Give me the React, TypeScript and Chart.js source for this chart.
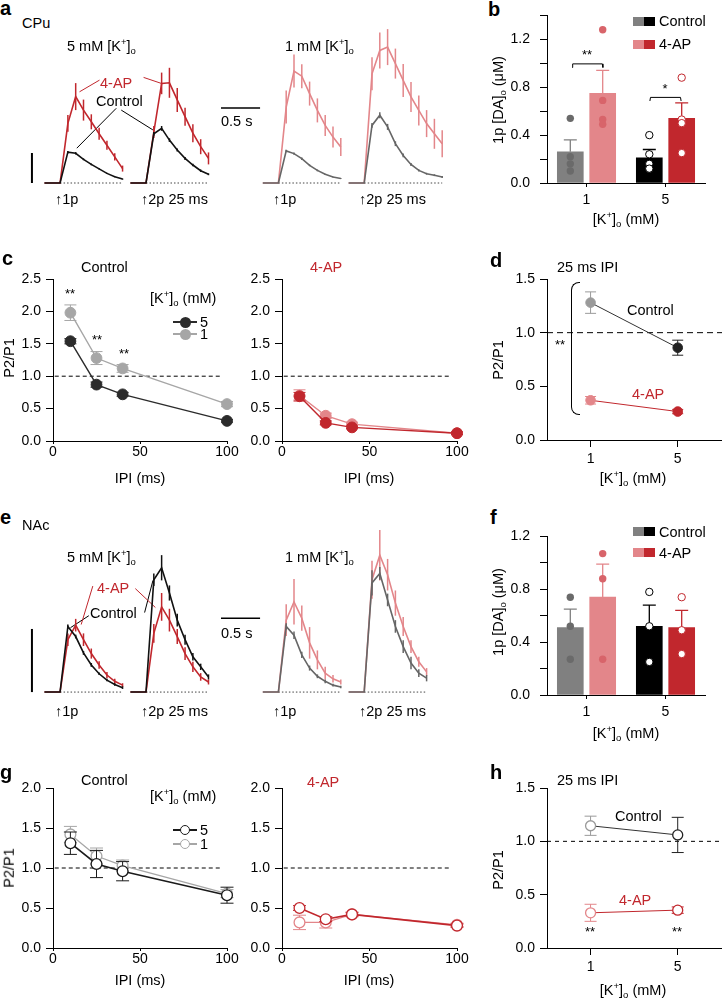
import React, { useEffect, useRef } from 'react';
import { Chart, registerables } from 'chart.js';
Chart.register(...registerables);

const FONT = "'Liberation Sans', Arial, Helvetica, sans-serif";
const RED = '#c1272d';
const PINK = '#e3868a';
const PINKDOT = '#d8646a';
const DARK = '#2b2b2b';
const LGRAY = '#a6a6a6';
const BARGRAY = '#808080';
const TRGRAY = '#666666';

// ---------- time bases of the FSCV traces (s) ----------
const tP1 = [0, 0.1, 0.2, 0.3, 0.4, 0.5, 0.6, 0.7, 0.8, 0.9, 1.0];
const tP2 = [1.1, 1.2, 1.3, 1.4, 1.5, 1.6, 1.7, 1.8, 1.9, 2.0, 2.1];
const tP2long = [1.1, 1.2, 1.3, 1.4, 1.5, 1.6, 1.7, 1.8, 1.9, 2.0, 2.1, 2.2, 2.3];

// ---------- panel a: CPu traces (scale-bar units) ----------
const aCtl5p1 = [0, 0, 0, 1.03, 0.99, 0.79, 0.62, 0.47, 0.32, 0.21, 0.13];
const aCtl5p1Sem = [0, 0, 0, 0.04, 0.04, 0.03, 0.03, 0.02, 0.02, 0.02, 0.02];
const aAp5p1 = [0, 0, 0, 1.99, 2.88, 2.43, 2.04, 1.64, 1.26, 0.87, 0.48];
const aAp5p1Sem = [0, 0, 0, 0.28, 0.45, 0.35, 0.25, 0.2, 0.15, 0.12, 0.1];
const aCtl5p2 = [0, 0, 0, 1.64, 1.82, 1.43, 1.1, 0.82, 0.6, 0.41, 0.29];
const aCtl5p2Sem = [0, 0, 0, 0.06, 0.08, 0.06, 0.05, 0.05, 0.04, 0.04, 0.03];
const aAp5p2 = [0, 0, 0, 1.7, 3.32, 3.34, 2.77, 2.21, 1.66, 1.21, 0.82];
const aAp5p2Sem = [0, 0, 0, 0.2, 0.36, 0.5, 0.4, 0.3, 0.3, 0.25, 0.2];

const aCtl1p1 = [0, 0, 0, 1.07, 0.98, 0.81, 0.59, 0.42, 0.29, 0.2, 0.15];
const aCtl1p1Sem = [0, 0, 0, 0.04, 0.04, 0.04, 0.03, 0.03, 0.02, 0.02, 0.02];
const aAp1p1 = [0, 0, 0, 2.53, 3.73, 3.56, 2.98, 2.42, 1.92, 1.53, 1.2];
const aAp1p1Sem = [0, 0, 0, 0.55, 0.55, 0.4, 0.4, 0.4, 0.35, 0.35, 0.3];
const aCtl1p2 = [0, 0, 0, 1.92, 2.26, 1.87, 1.31, 0.92, 0.62, 0.42, 0.31, 0.26, 0.2];
const aCtl1p2Sem = [0, 0, 0, 0.08, 0.1, 0.1, 0.08, 0.06, 0.05, 0.04, 0.03, 0.03, 0.03];
const aAp1p2 = [0, 0, 0, 3.64, 4.42, 4.53, 3.98, 3.42, 2.87, 2.42, 1.98, 1.64, 1.31];
const aAp1p2Sem = [0, 0, 0, 0.55, 0.6, 0.6, 0.5, 0.55, 0.5, 0.5, 0.45, 0.5, 0.45];

// ---------- panel e: NAc traces (scale-bar units) ----------
const eCtl5p1 = [0, 0, 0, 1.04, 0.88, 0.62, 0.43, 0.29, 0.19, 0.12, 0.07];
const eCtl5p1Sem = [0, 0, 0, 0.03, 0.03, 0.03, 0.03, 0.02, 0.02, 0.02, 0.02];
const eAp5p1 = [0, 0, 0, 0.83, 1.06, 0.83, 0.61, 0.43, 0.27, 0.17, 0.11];
const eAp5p1Sem = [0, 0, 0, 0.1, 0.1, 0.1, 0.08, 0.06, 0.05, 0.04, 0.03];
const eCtl5p2 = [0, 0, 0, 1.78, 1.97, 1.57, 1.14, 0.83, 0.56, 0.4, 0.24];
const eCtl5p2Sem = [0, 0, 0, 0.1, 0.2, 0.12, 0.1, 0.08, 0.06, 0.05, 0.04];
const eAp5p2 = [0, 0, 0, 0.93, 1.35, 1.14, 0.88, 0.61, 0.4, 0.24, 0.16];
const eAp5p2Sem = [0, 0, 0, 0.15, 0.22, 0.18, 0.12, 0.1, 0.08, 0.06, 0.04];

const eCtl1p1 = [0, 0, 0, 1.04, 0.9, 0.59, 0.38, 0.25, 0.17, 0.11, 0.08];
const eCtl1p1Sem = [0, 0, 0, 0.05, 0.06, 0.05, 0.04, 0.03, 0.03, 0.02, 0.02];
const eAp1p1 = [0, 0, 0, 1.14, 1.43, 1.17, 0.78, 0.51, 0.3, 0.21, 0.16];
const eAp1p1Sem = [0, 0, 0, 0.25, 0.36, 0.2, 0.25, 0.15, 0.1, 0.06, 0.04];
const eCtl1p2 = [0, 0, 0, 1.73, 1.88, 1.46, 1.04, 0.72, 0.46, 0.3, 0.22];
const eCtl1p2Sem = [0, 0, 0, 0.2, 0.1, 0.1, 0.1, 0.1, 0.1, 0.06, 0.05];
const eAp1p2 = [0, 0, 0, 1.78, 2.17, 1.86, 1.41, 1.04, 0.72, 0.48, 0.32];
const eAp1p2Sem = [0, 0, 0, 0.3, 0.4, 0.25, 0.2, 0.15, 0.1, 0.08, 0.06];

// ---------- panels b / f: 1p [DA]o (uM) ----------
const kLevels = [1, 5];
const cpuCtlMean = [0.26, 0.21];
const cpuCtlSem = [0.1, 0.07];
const cpuApMean = [0.75, 0.54];
const cpuApSem = [0.19, 0.13];
const cpuCtlPts1 = [0.54, 0.22, 0.16, 0.1];
const cpuCtlPts5 = [0.4, 0.24, 0.16, 0.12];
const cpuApPts1 = [1.28, 0.69, 0.53, 0.49];
const cpuApPts5 = [0.88, 0.53, 0.5, 0.25];

const nacCtlMean = [0.51, 0.52];
const nacCtlSem = [0.14, 0.16];
const nacApMean = [0.74, 0.51];
const nacApSem = [0.25, 0.13];
const nacCtlPts1 = [0.74, 0.52, 0.27];
const nacCtlPts5 = [0.78, 0.52, 0.25];
const nacApPts1 = [1.07, 0.88, 0.27];
const nacApPts5 = [0.74, 0.49, 0.31];

// ---------- panels c / g: P2/P1 vs IPI ----------
const ipi = [10, 25, 40, 100];
const cpuCtl5 = [1.54, 0.87, 0.72, 0.31];
const cpuCtl5Sem = [0.04, 0.04, 0.03, 0.02];
const cpuCtl1 = [1.98, 1.28, 1.12, 0.57];
const cpuCtl1Sem = [0.12, 0.1, 0.06, 0.04];
const cpuAp5 = [0.69, 0.28, 0.21, 0.12];
const cpuAp5Sem = [0.06, 0.03, 0.02, 0.02];
const cpuAp1 = [0.7, 0.39, 0.26, 0.12];
const cpuAp1Sem = [0.09, 0.04, 0.03, 0.02];

const nacCtl5 = [1.31, 1.05, 0.96, 0.66];
const nacCtl5Sem = [0.14, 0.17, 0.12, 0.1];
const nacCtl1 = [1.42, 1.15, 1.03, 0.68];
const nacCtl1Sem = [0.1, 0.1, 0.07, 0.05];
const nacAp5 = [0.5, 0.36, 0.42, 0.28];
const nacAp5Sem = [0.03, 0.03, 0.02, 0.02];
const nacAp1 = [0.32, 0.32, 0.42, 0.29];
const nacAp1Sem = [0.09, 0.07, 0.03, 0.02];

// ---------- panels d / h: 25 ms IPI ----------
const cpuCtl25 = [1.28, 0.86];
const cpuCtl25Sem = [0.1, 0.07];
const cpuAp25 = [0.37, 0.265];
const cpuAp25Sem = [0.035, 0.02];
const nacCtl25 = [1.146, 1.06];
const nacCtl25Sem = [0.09, 0.165];
const nacAp25 = [0.33, 0.355];
const nacAp25Sem = [0.08, 0.03];

// ---------- annotation geometry (data coords) ----------
const aLinks = {
  ap: [[[0.705, 3.43], [0.449, 3.04]], [[1.269, 3.52], [1.496, 3.32]]],
  ctl: [[[0.919, 2.49], [0.414, 1.16]], [[0.983, 2.43], [1.388, 1.77]]],
};
const eLinks = {
  ap: [[[0.619, 1.68], [0.47, 1.07]], [[1.163, 1.64], [1.42, 1.34]]],
  ctl: [[[0.568, 1.21], [0.333, 1.02]], [[1.282, 1.26], [1.389, 1.77]]],
};
const aScaleBars = { v: [[-0.16, 0], [-0.16, 1]], h: [[2.26, 2.5], [2.76, 2.5]] };
const eScaleBars = { v: [[-0.16, 0], [-0.16, 1]], h: [[2.26, 1.17], [2.76, 1.17]] };
const cpuBrackets = [
  [[0.27, 0.965], [0.3, 0.995], [1.8, 0.995], [1.83, 0.965]],
  [[4.21, 0.685], [4.24, 0.715], [5.76, 0.715], [5.79, 0.685]],
];

// ---------- plugin: error bars ----------
const errorBarPlugin = {
  id: 'errbars',
  beforeDatasetDraw(chart: any, args: any) {
    const ds = chart.data.datasets[args.index];
    if (!ds.errs) return;
    const meta = args.meta;
    const yScale = chart.scales[meta.yAxisID];
    const ctx = chart.ctx;
    ctx.save();
    ds.errs.forEach((e: number, i: number) => {
      const el = meta.data[i];
      if (!el || !e) return;
      const raw = ds.data[i];
      const v = typeof raw === 'number' ? raw : raw.y;
      const col = Array.isArray(ds.errColor) ? ds.errColor[i] : ds.errColor || ds.borderColor;
      const x = el.x;
      const yTop = yScale.getPixelForValue(v + e);
      const yBot = ds.errUp ? yScale.getPixelForValue(v) : yScale.getPixelForValue(v - e);
      ctx.strokeStyle = col;
      ctx.lineWidth = ds.errWidth || 1;
      ctx.beginPath();
      ctx.moveTo(x, yTop);
      ctx.lineTo(x, yBot);
      const c = (ds.errCap || 0) / 2;
      if (c) {
        ctx.moveTo(x - c, yTop);
        ctx.lineTo(x + c, yTop);
        if (!ds.errUp) {
          ctx.moveTo(x - c, yBot);
          ctx.lineTo(x + c, yBot);
        }
      }
      ctx.stroke();
    });
    ctx.restore();
  },
};

const pts = (xs: number[], ys: number[]) => xs.map((x, i) => ({ x, y: ys[i] }));
const at = (x: number, ys: number[]) => ys.map((y) => ({ x, y }));
const pp = (arr: number[][]) => arr.map((p) => ({ x: p[0], y: p[1] }));

function line(data: any[], color: string, width: number, extra: any = {}) {
  return { type: 'scatter', showLine: true, data, borderColor: color, borderWidth: width, pointRadius: 0, pointHoverRadius: 0, clip: false, tension: 0, ...extra };
}

function baseOptions(): any {
  return { responsive: false, animation: false, events: [], plugins: { legend: { display: false }, tooltip: { enabled: false } } };
}

// ---------- trace charts ----------
type Box = { x: number; y: number; w: number; h: number };

function traceConfig(xr: number[], yr: number[], datasets: any[]) {
  const o = baseOptions();
  o.layout = { padding: 0 };
  o.scales = {
    x: { type: 'linear', min: xr[0], max: xr[1], display: false },
    y: { type: 'linear', min: yr[0], max: yr[1], display: false },
  };
  return { type: 'scatter', data: { datasets }, options: o, plugins: [errorBarPlugin] };
}

function tr(t: number[], v: number[], e: number[], color: string) {
  return line(pts(t, v), color, 1.6, { errs: e, errColor: color, errWidth: 1.5, errCap: 0 });
}
function dotted(t0: number, t1: number) {
  return line([{ x: t0, y: 0 }, { x: t1, y: 0 }], '#444', 1, { borderDash: [1.5, 2] });
}

const buildAL = () =>
  traceConfig([-0.3, 2.9], [-0.5, 5.0], [
    tr(tP1, aCtl5p1, aCtl5p1Sem, '#111'),
    tr(tP2, aCtl5p2, aCtl5p2Sem, '#111'),
    tr(tP1, aAp5p1, aAp5p1Sem, RED),
    tr(tP2, aAp5p2, aAp5p2Sem, RED),
    dotted(0.2, 1.0),
    dotted(1.3, 2.1),
    line(pp(aScaleBars.v), '#000', 2),
    line(pp(aScaleBars.h), '#000', 1.5),
    ...aLinks.ap.map((s) => line(pp(s), RED, 1)),
    ...aLinks.ctl.map((s) => line(pp(s), '#000', 1)),
  ]);

const buildAR = () =>
  traceConfig([-0.1, 2.4], [-0.5, 5.5], [
    tr(tP1, aCtl1p1, aCtl1p1Sem, TRGRAY),
    tr(tP2long, aCtl1p2, aCtl1p2Sem, TRGRAY),
    tr(tP1, aAp1p1, aAp1p1Sem, PINK),
    tr(tP2long, aAp1p2, aAp1p2Sem, PINK),
    dotted(0.2, 1.0),
    dotted(1.3, 2.3),
  ]);

const buildEL = () =>
  traceConfig([-0.3, 2.9], [-0.3, 2.6], [
    tr(tP1, eCtl5p1, eCtl5p1Sem, '#111'),
    tr(tP2, eCtl5p2, eCtl5p2Sem, '#111'),
    tr(tP1, eAp5p1, eAp5p1Sem, RED),
    tr(tP2, eAp5p2, eAp5p2Sem, RED),
    dotted(0.2, 1.0),
    dotted(1.3, 2.1),
    line(pp(eScaleBars.v), '#000', 2),
    line(pp(eScaleBars.h), '#000', 1.5),
    ...eLinks.ap.map((s) => line(pp(s), RED, 1)),
    ...eLinks.ctl.map((s) => line(pp(s), '#000', 1)),
  ]);

const buildER = () =>
  traceConfig([-0.1, 2.4], [-0.3, 2.6], [
    tr(tP1, eCtl1p1, eCtl1p1Sem, TRGRAY),
    tr(tP2, eCtl1p2, eCtl1p2Sem, TRGRAY),
    tr(tP1, eAp1p1, eAp1p1Sem, PINK),
    tr(tP2, eAp1p2, eAp1p2Sem, PINK),
    dotted(0.2, 1.0),
    dotted(1.3, 2.1),
  ]);

// ---------- axes charts ----------
const AW = 42;
const AH = 40;
const PT = 14;
const PR = 18;
type AxSpec = {
  L: number; T: number; R: number; B: number;
  xr: number[]; yr: number[];
  xTicks: number[]; xLab: (v: number) => string;
  yTicks: number[]; yLab: (v: number) => string;
  xTickLen: number; xPad: number; yPad: number;
};
function axBox(s: AxSpec): Box {
  return { x: s.L - AW, y: s.T - PT, w: s.R + PR - (s.L - AW), h: s.B + AH - (s.T - PT) };
}
function axConfig(s: AxSpec, datasets: any[], type = 'scatter') {
  const o = baseOptions();
  o.layout = { padding: { top: PT, right: PR, left: 0, bottom: 0 } };
  const tickFont = { family: FONT, size: 14 };
  o.scales = {
    x: {
      type: 'linear', min: s.xr[0], max: s.xr[1], offset: false,
      afterBuildTicks: (a: any) => { a.ticks = s.xTicks.map((v) => ({ value: v })); },
      afterFit: (a: any) => { a.height = AH; },
      ticks: { callback: (v: number) => s.xLab(v), font: tickFont, color: '#000', padding: s.xPad, maxRotation: 0, minRotation: 0, autoSkip: false },
      grid: { display: true, drawOnChartArea: false, drawTicks: true, tickLength: s.xTickLen, color: '#000', lineWidth: 1, offset: false },
      border: { display: true, color: '#000', width: 1 },
    },
    y: {
      type: 'linear', min: s.yr[0], max: s.yr[1], offset: false,
      afterBuildTicks: (a: any) => { a.ticks = s.yTicks.map((v) => ({ value: v })); },
      afterFit: (a: any) => { a.width = AW; },
      ticks: { callback: (v: number) => s.yLab(v), font: tickFont, color: '#000', padding: s.yPad, autoSkip: false },
      grid: { display: true, drawOnChartArea: false, drawTicks: true, tickLength: 7, color: '#000', lineWidth: 1 },
      border: { display: true, color: '#000', width: 1 },
    },
  };
  return { type, data: { datasets }, options: o, plugins: [errorBarPlugin] };
}

const fix1 = (v: number) => v.toFixed(1);
const only = (vals: number[]) => (v: number) => (vals.some((l) => Math.abs(l - v) < 1e-6) ? v.toFixed(1) : '');

const specB: AxSpec = { L: 547, T: 11, R: 705, B: 183, xr: [-1, 7], yr: [0, 1.4], xTicks: kLevels, xLab: (v) => String(v), yTicks: [0, 0.2, 0.4, 0.6, 0.8, 1.0, 1.2, 1.4], yLab: only([0, 0.4, 0.8, 1.2]), xTickLen: 4, xPad: 5, yPad: 10 };
const specF: AxSpec = { L: 547, T: 532, R: 705, B: 695, xr: [-1, 7], yr: [0, 1.2], xTicks: kLevels, xLab: (v) => String(v), yTicks: [0, 0.2, 0.4, 0.6, 0.8, 1.0, 1.2], yLab: only([0, 0.4, 0.8, 1.2]), xTickLen: 4, xPad: 5, yPad: 10 };
const specCL: AxSpec = { L: 53, T: 279, R: 227, B: 441, xr: [0, 100], yr: [0, 2.5], xTicks: [0, 50, 100], xLab: (v) => String(v), yTicks: [0, 0.5, 1, 1.5, 2, 2.5], yLab: fix1, xTickLen: 3, xPad: 0, yPad: 5 };
const specCR: AxSpec = { ...specCL, L: 282, R: 457 };
const specD: AxSpec = { L: 547, T: 279, R: 730, B: 440, xr: [-1, 7.4], yr: [0, 1.5], xTicks: kLevels, xLab: (v) => String(v), yTicks: [0, 0.5, 1, 1.5], yLab: fix1, xTickLen: 7, xPad: 4, yPad: 5 };
const specGL: AxSpec = { L: 53, T: 788, R: 227, B: 948, xr: [0, 100], yr: [0, 2.0], xTicks: [0, 50, 100], xLab: (v) => String(v), yTicks: [0, 0.5, 1, 1.5, 2], yLab: fix1, xTickLen: 3, xPad: 0, yPad: 5 };
const specGR: AxSpec = { ...specGL, L: 282, R: 457 };
const specH: AxSpec = { L: 547, T: 788, R: 730, B: 948, xr: [-1, 7.4], yr: [0, 1.5], xTicks: kLevels, xLab: (v) => String(v), yTicks: [0, 0.5, 1, 1.5], yLab: fix1, xTickLen: 7, xPad: 4, yPad: 5 };

const OFF = 0.82;
function barDatasets(ctlMean: number[], ctlSem: number[], apMean: number[], apSem: number[], c1: number[], c5: number[], a1: number[], a5: number[], brackets: number[][][]) {
  const ctlCols = [BARGRAY, '#000'];
  const apCols = [PINK, RED];
  const dot = (x: number, ys: number[], fill: string, border: string, bw: number) => ({
    type: 'scatter', data: at(x, ys), pointRadius: 3.7, pointBackgroundColor: fill, pointBorderColor: border, pointBorderWidth: bw, showLine: false, clip: false, order: 1,
  });
  return [
    ...brackets.map((b) => ({ ...line(pp(b), '#000', 1), order: 0 })),
    dot(kLevels[0] - OFF, c1, '#6a6a6a', '#6a6a6a', 0),
    dot(kLevels[0] + OFF, a1, PINKDOT, PINKDOT, 0),
    dot(kLevels[1] - OFF, c5, '#fff', '#000', 1),
    dot(kLevels[1] + OFF, a5, '#fff', RED, 1),
    {
      type: 'bar', data: kLevels.map((k, i) => ({ x: k - OFF, y: ctlMean[i] })), backgroundColor: ctlCols, barThickness: 26, grouped: false, borderWidth: 0,
      errs: ctlSem, errColor: ctlCols, errUp: true, errCap: 13, errWidth: 1.3, order: 3,
    },
    {
      type: 'bar', data: kLevels.map((k, i) => ({ x: k + OFF, y: apMean[i] })), backgroundColor: apCols, barThickness: 26, grouped: false, borderWidth: 0,
      errs: apSem, errColor: apCols, errUp: true, errCap: 13, errWidth: 1.3, order: 3,
    },
  ];
}

const buildB = () => axConfig(specB, barDatasets(cpuCtlMean, cpuCtlSem, cpuApMean, cpuApSem, cpuCtlPts1, cpuCtlPts5, cpuApPts1, cpuApPts5, cpuBrackets), 'bar');
const buildF = () => axConfig(specF, barDatasets(nacCtlMean, nacCtlSem, nacApMean, nacApSem, nacCtlPts1, nacCtlPts5, nacApPts1, nacApPts5, []), 'bar');

function series(xs: number[], ys: number[], errs: number[], color: string | string[], lineColor: string, opts: any) {
  return line(pts(xs, ys), lineColor, opts.lw ?? 1.3, {
    pointRadius: opts.r ?? 5,
    pointBackgroundColor: opts.open ? '#fff' : color,
    pointBorderColor: color,
    pointBorderWidth: opts.bw ?? 1,
    errs, errColor: color, errCap: opts.cap ?? 12, errWidth: 1,
  });
}
const dash = (x0: number, x1: number, d: number[]) => line([{ x: x0, y: 1 }, { x: x1, y: 1 }], '#000', 1, { borderDash: d });

const buildCL = () => axConfig(specCL, [
  series(ipi, cpuCtl5, cpuCtl5Sem, DARK, DARK, { r: 5.4, lw: 1.4 }),
  series(ipi, cpuCtl1, cpuCtl1Sem, LGRAY, LGRAY, { r: 5.4, lw: 1.4 }),
  dash(1, 97, [4, 3]),
]);
const buildCR = () => axConfig(specCR, [
  series(ipi, cpuAp5, cpuAp5Sem, RED, RED, { r: 5.4, lw: 1.4 }),
  series(ipi, cpuAp1, cpuAp1Sem, PINK, PINK, { r: 5.4, lw: 1.4 }),
  dash(1, 97, [4, 3]),
]);
const buildD = () => axConfig(specD, [
  series(kLevels, cpuAp25, cpuAp25Sem, [PINK, RED], RED, { r: 4.8, lw: 1, cap: 11 }),
  series(kLevels, cpuCtl25, cpuCtl25Sem, ['#9a9a9a', '#222'], '#333', { r: 4.8, lw: 1, cap: 11 }),
  dash(-1, 7.4, [6, 4]),
]);
const buildGL = () => axConfig(specGL, [
  series(ipi, nacCtl5, nacCtl5Sem, '#1a1a1a', '#1a1a1a', { r: 5.4, lw: 1.6, open: true, bw: 1.3, cap: 13 }),
  series(ipi, nacCtl1, nacCtl1Sem, LGRAY, LGRAY, { r: 5.4, lw: 1.3, open: true, bw: 1.3, cap: 13 }),
  dash(1, 97, [4, 3]),
]);
const buildGR = () => axConfig(specGR, [
  series(ipi, nacAp5, nacAp5Sem, RED, RED, { r: 5.4, lw: 1.6, open: true, bw: 1.3, cap: 13 }),
  series(ipi, nacAp1, nacAp1Sem, PINK, PINK, { r: 5.4, lw: 1.3, open: true, bw: 1.3, cap: 13 }),
  dash(1, 97, [4, 3]),
]);
const buildH = () => axConfig(specH, [
  series(kLevels, nacAp25, nacAp25Sem, [PINK, RED], RED, { r: 5, lw: 1, open: true, bw: 1.3, cap: 12 }),
  series(kLevels, nacCtl25, nacCtl25Sem, ['#9a9a9a', '#222'], '#333', { r: 5, lw: 1, open: true, bw: 1.3, cap: 12 }),
  dash(-1, 7.4, [4, 4]),
]);

const charts: { box: Box; build: () => any }[] = [
  { box: { x: 21, y: 33, w: 250, h: 165 }, build: buildAL },
  { box: { x: 255, y: 18, w: 195, h: 180 }, build: buildAR },
  { box: { x: 21, y: 528, w: 250, h: 183 }, build: buildEL },
  { box: { x: 255, y: 528, w: 195, h: 183 }, build: buildER },
  { box: axBox(specB), build: buildB },
  { box: axBox(specF), build: buildF },
  { box: axBox(specCL), build: buildCL },
  { box: axBox(specCR), build: buildCR },
  { box: axBox(specD), build: buildD },
  { box: axBox(specGL), build: buildGL },
  { box: axBox(specGR), build: buildGR },
  { box: axBox(specH), build: buildH },
];

function ChartBox({ box, build }: { box: Box; build: () => any }) {
  const ref = useRef<HTMLCanvasElement>(null);
  useEffect(() => {
    const c = new Chart(ref.current as HTMLCanvasElement, build());
    return () => c.destroy();
  }, []);
  const w = Math.round(box.w);
  const h = Math.round(box.h);
  return <canvas ref={ref} width={w} height={h} style={{ position: 'absolute', left: Math.round(box.x), top: Math.round(box.y), width: w, height: h }} />;
}

// ---------- text helpers ----------
function T({ x, y, children, size = 14.5, color = '#000', bold = false, anchor = 'left', rot = false }: any) {
  const tx = anchor === 'center' ? '-50%' : anchor === 'right' ? '-100%' : '0';
  return (
    <div style={{ position: 'absolute', left: x, top: y, fontFamily: FONT, fontSize: size, color, fontWeight: bold ? 'bold' : 'normal', whiteSpace: 'nowrap', lineHeight: 1, transform: `translate(${tx}, -50%)${rot ? ' rotate(-90deg)' : ''}` }}>
      {children}
    </div>
  );
}
const Sup = ({ c }: any) => <span style={{ fontSize: 9.5, position: 'relative', top: -6 }}>{c}</span>;
const Sub = ({ c }: any) => <span style={{ fontSize: 9.5, position: 'relative', top: 3 }}>{c}</span>;
const K = () => (<>[K<Sup c="+" />]<Sub c="o" /></>);

function Sq({ x, y, c }: any) {
  return <div style={{ position: 'absolute', left: x, top: y, width: 11, height: 9, background: c }} />;
}
function LegLine({ x, y, c, open }: any) {
  return (
    <>
      <div style={{ position: 'absolute', left: x, top: y - 0.7, width: 24, height: 1.4, background: c }} />
      <div style={{ position: 'absolute', left: x + 7, top: y - 5.5, width: open ? 8.4 : 11, height: open ? 8.4 : 11, borderRadius: '50%', background: open ? '#fff' : c, border: open ? `1.3px solid ${c}` : 'none' }} />
    </>
  );
}
const Arrow2 = () => <span style={{ fontWeight: 'bold' }}>↑</span>;

export default function App() {
  return (
    <div style={{ position: 'absolute', left: 0, top: 0, width: 722, height: 998, overflow: 'hidden', background: '#fff' }}>
      {charts.map((c, i) => (<ChartBox key={i} box={c.box} build={c.build} />))}

      {/* panel a */}
      <T x={0} y={8} size={20} bold>a</T>
      <T x={22} y={23}>CPu</T>
      <T x={67} y={46}>5 mM <K /></T>
      <T x={285} y={46}>1 mM <K /></T>
      <T x={100} y={83} color={RED}>4-AP</T>
      <T x={96} y={101}>Control</T>
      <T x={221} y={121}>0.5 s</T>
      <T x={55} y={199}>↑1p</T>
      <T x={141} y={199}><Arrow2 />2p 25 ms</T>
      <T x={273} y={199}>↑1p</T>
      <T x={359} y={199}><Arrow2 />2p 25 ms</T>

      {/* panel b */}
      <T x={488} y={9} size={20} bold>b</T>
      <T x={498} y={100} rot anchor="center">1p [DA]<Sub c="o" /> (μM)</T>
      <T x={626} y={219} anchor="center"><K /> (mM)</T>
      <T x={587} y={54} anchor="center" size={13}>**</T>
      <T x={665} y={88} anchor="center" size={13}>*</T>
      <Sq x={633} y={17} c={BARGRAY} /><Sq x={644} y={17} c="#000" />
      <T x={659} y={21}>Control</T>
      <Sq x={633} y={40} c={PINK} /><Sq x={644} y={40} c={RED} />
      <T x={659} y={44}>4-AP</T>

      {/* panel c */}
      <T x={2} y={258} size={20} bold>c</T>
      <T x={81} y={267}>Control</T>
      <T x={310} y={267} color={RED}>4-AP</T>
      <T x={150} y={298}><K /> (mM)</T>
      <LegLine x={173} y={322} c={DARK} />
      <T x={200} y={322}>5</T>
      <LegLine x={173} y={334} c={LGRAY} />
      <T x={200} y={334}>1</T>
      <T x={70} y={293} anchor="center" size={13}>**</T>
      <T x={97} y={339} anchor="center" size={13}>**</T>
      <T x={124} y={353} anchor="center" size={13}>**</T>
      <T x={9} y={358} rot anchor="center">P2/P1</T>
      <T x={140} y={478} anchor="center">IPI (ms)</T>
      <T x={369} y={478} anchor="center">IPI (ms)</T>

      {/* panel d */}
      <T x={490} y={260} size={20} bold>d</T>
      <T x={557} y={267}>25 ms IPI</T>
      <T x={627} y={310}>Control</T>
      <T x={632} y={394} color={RED}>4-AP</T>
      <T x={560} y={344} anchor="center" size={13}>**</T>
      <T x={498} y={360} rot anchor="center">P2/P1</T>
      <T x={633} y={478} anchor="center"><K /> (mM)</T>
      <div style={{ position: 'absolute', left: 571, top: 282, width: 8, height: 131, border: '1px solid #000', borderRight: 'none', borderRadius: '8px 0 0 8px' }} />

      {/* panel e */}
      <T x={0} y={517} size={20} bold>e</T>
      <T x={22} y={525}>NAc</T>
      <T x={67} y={557}>5 mM <K /></T>
      <T x={285} y={557}>1 mM <K /></T>
      <T x={97} y={588} color={RED}>4-AP</T>
      <T x={90} y={613}>Control</T>
      <T x={221} y={633}>0.5 s</T>
      <T x={55} y={711}>↑1p</T>
      <T x={141} y={711}><Arrow2 />2p 25 ms</T>
      <T x={273} y={711}>↑1p</T>
      <T x={359} y={711}><Arrow2 />2p 25 ms</T>

      {/* panel f */}
      <T x={490} y={517} size={20} bold>f</T>
      <T x={498} y={612} rot anchor="center">1p [DA]<Sub c="o" /> (μM)</T>
      <T x={626} y={733} anchor="center"><K /> (mM)</T>
      <Sq x={633} y={527} c={BARGRAY} /><Sq x={644} y={527} c="#000" />
      <T x={659} y={532}>Control</T>
      <Sq x={633} y={548} c={PINK} /><Sq x={644} y={548} c={RED} />
      <T x={659} y={553}>4-AP</T>

      {/* panel g */}
      <T x={0} y={772} size={20} bold>g</T>
      <T x={81} y={780}>Control</T>
      <T x={307} y={782} color={RED}>4-AP</T>
      <T x={150} y={796}><K /> (mM)</T>
      <LegLine x={173} y={830} c="#1a1a1a" open />
      <T x={200} y={830}>5</T>
      <LegLine x={173} y={844} c={LGRAY} open />
      <T x={200} y={844}>1</T>
      <T x={9} y={868} rot anchor="center">P2/P1</T>
      <T x={140} y={980} anchor="center">IPI (ms)</T>
      <T x={369} y={980} anchor="center">IPI (ms)</T>

      {/* panel h */}
      <T x={490} y={772} size={20} bold>h</T>
      <T x={557} y={780}>25 ms IPI</T>
      <T x={615} y={816}>Control</T>
      <T x={619} y={900} color={RED}>4-AP</T>
      <T x={590} y={931} anchor="center" size={13}>**</T>
      <T x={677} y={931} anchor="center" size={13}>**</T>
      <T x={498} y={870} rot anchor="center">P2/P1</T>
      <T x={633} y={990} anchor="center"><K /> (mM)</T>
    </div>
  );
}
